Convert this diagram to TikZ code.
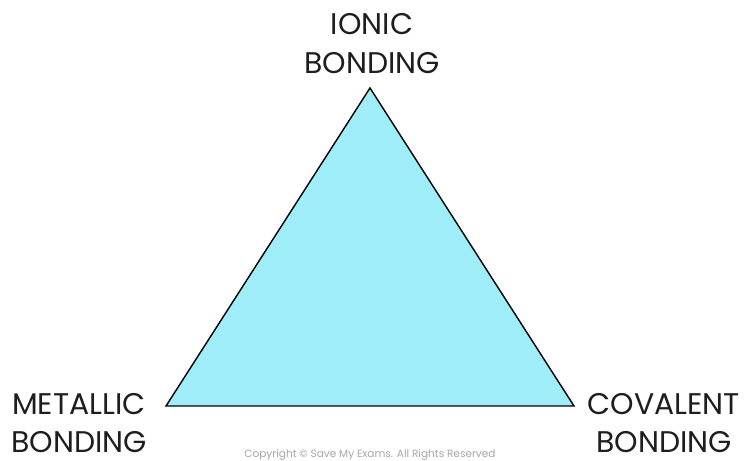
\documentclass[tikz,border=0pt]{standalone}
\usepackage{fontspec}
\setmainfont{Poppins}
\usepackage{tikz}
\definecolor{bondfill}{RGB}{160,237,250}
\definecolor{labelgray}{RGB}{30,30,30}

\begin{document}
\begin{tikzpicture}[every node/.style={font=\fontsize{17}{22}\selectfont, text=labelgray, align=center}]
  \useasboundingbox (0,0) rectangle (14.88,9.22);
  \coordinate (ionic) at (7.40,7.46);
  \coordinate (metallic) at (3.32,1.10);
  \coordinate (covalent) at (11.48,1.10);
  \draw[line width=0.8pt, fill=bondfill, line join=miter] (ionic) -- (metallic) -- (covalent) -- cycle;
  \node (ionlbl) at (7.44,8.35) {IONIC\\BONDING};
  \node (metlbl) at (1.58,0.76) {METALLIC\\BONDING};
  \node (covlbl) at (13.28,0.76) {COVALENT\\BONDING};
  \node[font=\fontsize{6}{7}\selectfont, text=black!35] (copy) at (7.40,0.12) {Copyright \textcopyright{} Save My Exams. All Rights Reserved};
\end{tikzpicture}
\end{document}
